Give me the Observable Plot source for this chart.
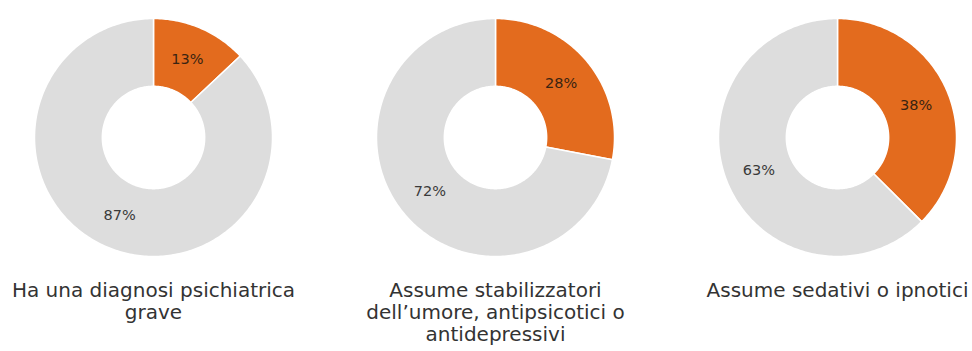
<!DOCTYPE html>
<html>
<head>
<meta charset="utf-8">
<script src="https://cdn.jsdelivr.net/npm/d3@7"></script>
<script src="https://cdn.jsdelivr.net/npm/@observablehq/plot@0.6"></script>
<style>
  html, body { margin: 0; padding: 0; background: #fff; }
  svg { font-family: "DejaVu Sans", sans-serif; }
</style>
</head>
<body>
<div id="chart"></div>
<script>
// ---- Data ----
const categories = [
  "Ha una diagnosi psichiatrica\ngrave",
  "Assume stabilizzatori\ndell’umore, antipsicotici o\nantidepressivi",
  "Assume sedativi o ipnotici"
];
const yesValues = [13, 28, 37.5];
const noValues = [87, 72, 62.5];
const yesLabels = ["13%", "28%", "38%"];
const noLabels = ["87%", "72%", "63%"];
const sliceKeys = ["sì", "no"];
const sliceColors = ["#E36B1E", "#DDDDDD"];
const innerRadius = 0.43;

// ---- Build slices (angles from data) ----
const slices = [];
categories.forEach((cat, i) => {
  const vals = [yesValues[i], noValues[i]];
  const labels = [yesLabels[i], noLabels[i]];
  const total = vals[0] + vals[1];
  let start = 0;
  vals.forEach((v, j) => {
    const a0 = start / total * 2 * Math.PI;
    const a1 = (start + v) / total * 2 * Math.PI;
    start += v;
    slices.push({cat, key: sliceKeys[j], a0, a1, label: labels[j]});
  });
});

const points = slices.flatMap((s, k) => {
  const n = Math.max(2, Math.ceil((s.a1 - s.a0) / (Math.PI / 180)));
  const pts = [];
  for (let t = 0; t <= n; t++) {
    const a = s.a0 + (s.a1 - s.a0) * t / n;
    pts.push({x: Math.sin(a), y: Math.cos(a)});
  }
  for (let t = n; t >= 0; t--) {
    const a = s.a0 + (s.a1 - s.a0) * t / n;
    pts.push({x: innerRadius * Math.sin(a), y: innerRadius * Math.cos(a)});
  }
  pts.push(pts[0]);
  return pts.map(p => ({...p, cat: s.cat, key: s.key, id: k}));
});

const midR = (1 + innerRadius) / 2;
const labelPts = slices.map(s => {
  const a = (s.a0 + s.a1) / 2;
  return {cat: s.cat, key: s.key, label: s.label, x: midR * Math.sin(a), y: midR * Math.cos(a)};
});

const chart = Plot.plot({
  width: 972,
  height: 351,
  marginLeft: 34,
  marginRight: 15,
  marginTop: 18,
  marginBottom: 95,
  style: {fontFamily: "DejaVu Sans, sans-serif", background: "white"},
  x: {domain: [-1, 1], axis: null},
  y: {domain: [-1, 1], axis: null},
  fx: {domain: categories, axis: null, paddingInner: 0.304, paddingOuter: 0, label: null},
  color: {domain: sliceKeys, range: sliceColors},
  marks: [
    Plot.line(points, {
      fx: "cat", x: "x", y: "y", z: "id",
      fill: "key", stroke: "white", strokeWidth: 1.5, curve: "linear"
    }),
    Plot.text(labelPts.filter(d => d.key === sliceKeys[0]), {
      fx: "cat", x: "x", y: "y", text: "label",
      fill: "#3a2412", fontSize: 14.5
    }),
    Plot.text(labelPts.filter(d => d.key === sliceKeys[1]), {
      fx: "cat", x: "x", y: "y", text: "label",
      fill: "#3a3a3a", fontSize: 14.5
    }),
    Plot.text(categories, {
      fx: d => d, x: 0, y: -1, text: d => d,
      lineAnchor: "top", dy: 25, lineHeight: 1.1,
      fontSize: 20, fill: "#333"
    })
  ]
});
document.getElementById("chart").appendChild(chart);
</script>
</body>
</html>
